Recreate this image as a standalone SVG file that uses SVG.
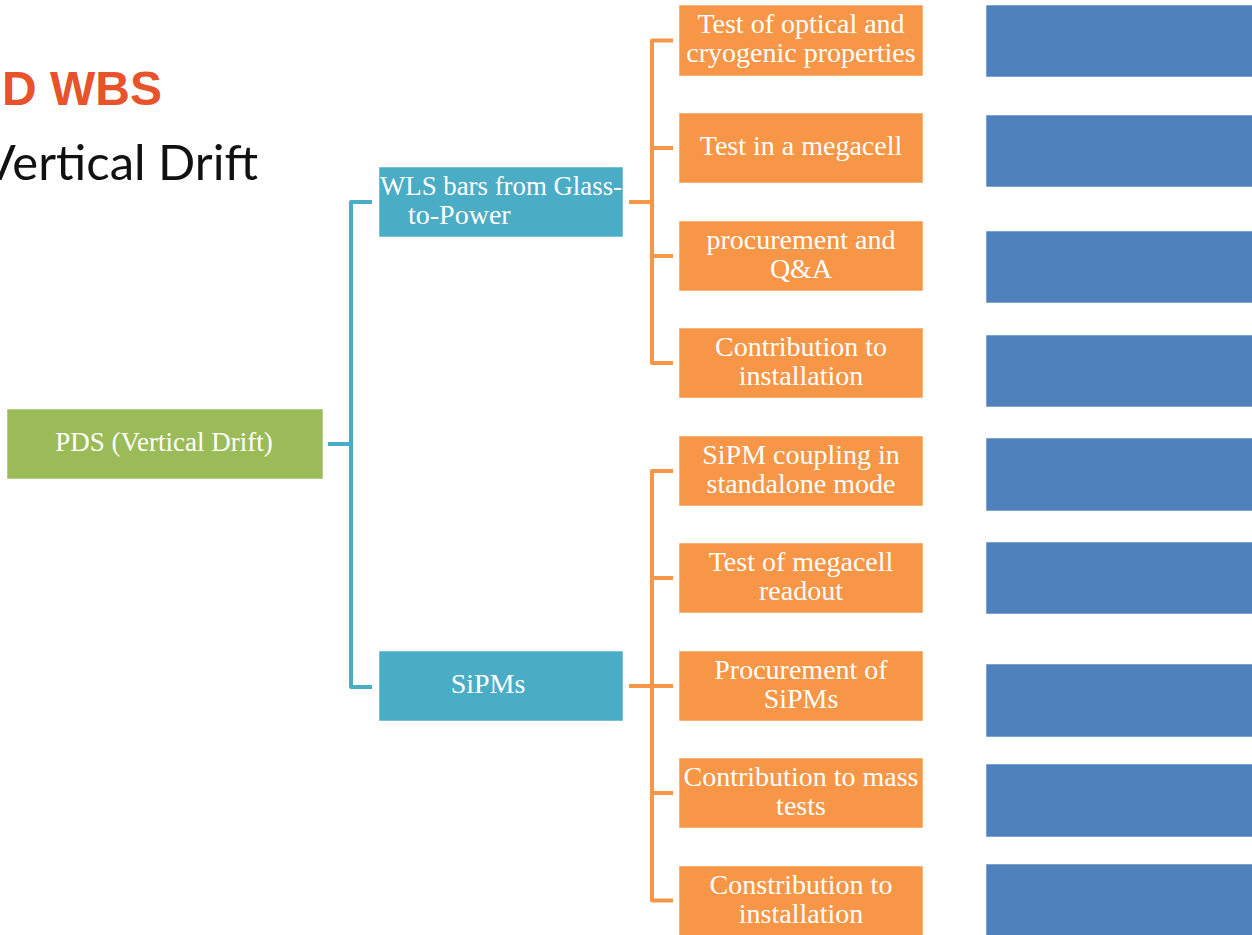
<svg xmlns="http://www.w3.org/2000/svg" width="1252" height="935" viewBox="0 0 1252 935">
<style>
.box{stroke:#ffffff;stroke-opacity:0.55;stroke-width:1}
.g{fill:#9BBB59}.c{fill:#4BACC6}.o{fill:#F79646}.b{fill:#4F81BD}
.t{font-family:"Liberation Serif",serif;font-size:28px;fill:#ffffff;text-anchor:middle}
.cb{fill:none;stroke:#4BACC6;stroke-width:4;stroke-linejoin:round}
.co{fill:none;stroke:#F79646;stroke-width:4;stroke-linejoin:round}
</style>
<rect width="1252" height="935" fill="#ffffff"/>
<text x="162" y="105" font-family="'Liberation Sans',Arial,sans-serif" font-weight="bold" font-size="48" fill="#E8532B" text-anchor="end">D WBS</text>
<text x="258" y="180" font-family="Lato,'Open Sans',sans-serif" font-size="49" fill="#111111" text-anchor="end">Vertical Drift</text>
<g id="connectors">
<path class="cb" d="M328 444 H351 M372 202 H351 V687 H372"/>
<path class="co" d="M629 202 H652 M673 40.5 H652 V363 H673 M652 148 H673 M652 256 H673"/>
<path class="co" d="M629 686 H673 M673 471 H652 V900.5 H673 M652 578 H673 M652 793 H673"/>
</g>
<g id="pds"><rect class="box g" x="7" y="409" width="316" height="70"/><text class="t" x="164" y="451" style="font-size:27px">PDS (Vertical Drift)</text></g>
<g id="wls"><rect class="box c" x="379" y="167" width="244" height="70"/><text class="t" x="380" y="195" style="text-anchor:start" textLength="242" lengthAdjust="spacingAndGlyphs">WLS bars from Glass-</text><text class="t" x="408" y="224" style="text-anchor:start">to-Power</text></g>
<g id="sipms"><rect class="box c" x="379" y="651" width="244" height="70"/><text class="t" x="488" y="693">SiPMs</text></g>
<g id="o1"><rect class="box o" x="679" y="5" width="244" height="71"/><text class="t" x="801" y="33">Test of optical and</text><text class="t" x="801" y="62">cryogenic properties</text></g>
<g id="o2"><rect class="box o" x="679" y="113" width="244" height="70"/><text class="t" x="801" y="155">Test in a megacell</text></g>
<g id="o3"><rect class="box o" x="679" y="221" width="244" height="70"/><text class="t" x="801" y="249">procurement and</text><text class="t" x="801" y="278">Q&amp;A</text></g>
<g id="o4"><rect class="box o" x="679" y="328" width="244" height="70"/><text class="t" x="801" y="356">Contribution to</text><text class="t" x="801" y="385">installation</text></g>
<g id="o5"><rect class="box o" x="679" y="436" width="244" height="70"/><text class="t" x="801" y="464">SiPM coupling in</text><text class="t" x="801" y="493">standalone mode</text></g>
<g id="o6"><rect class="box o" x="679" y="543" width="244" height="70"/><text class="t" x="801" y="571">Test of megacell</text><text class="t" x="801" y="600">readout</text></g>
<g id="o7"><rect class="box o" x="679" y="651" width="244" height="70"/><text class="t" x="801" y="679">Procurement of</text><text class="t" x="801" y="708">SiPMs</text></g>
<g id="o8"><rect class="box o" x="679" y="758" width="244" height="70"/><text class="t" x="801" y="786">Contribution to mass</text><text class="t" x="801" y="815">tests</text></g>
<g id="o9"><rect class="box o" x="679" y="866" width="244" height="70"/><text class="t" x="801" y="894">Constribution to</text><text class="t" x="801" y="923">installation</text></g>
<g id="b1"><rect class="box b" x="986" y="5" width="270" height="72"/></g>
<g id="b2"><rect class="box b" x="986" y="115" width="270" height="72"/></g>
<g id="b3"><rect class="box b" x="986" y="231" width="270" height="72"/></g>
<g id="b4"><rect class="box b" x="986" y="335" width="270" height="72"/></g>
<g id="b5"><rect class="box b" x="986" y="438" width="270" height="73"/></g>
<g id="b6"><rect class="box b" x="986" y="542" width="270" height="72"/></g>
<g id="b7"><rect class="box b" x="986" y="664" width="270" height="73"/></g>
<g id="b8"><rect class="box b" x="986" y="764" width="270" height="73"/></g>
<g id="b9"><rect class="box b" x="986" y="864" width="270" height="75"/></g>
</svg>
